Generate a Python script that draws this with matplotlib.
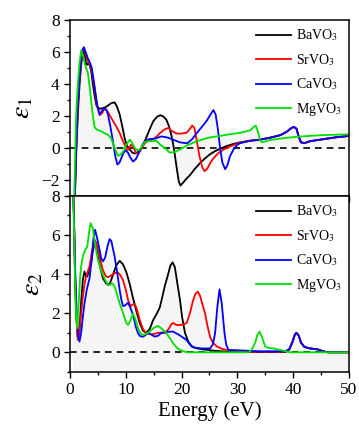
import numpy as np
import matplotlib
matplotlib.use("Agg")
import matplotlib.pyplot as plt

plt.rcParams["font.family"] = ["Liberation Serif", "DejaVu Serif"]
plt.rcParams["mathtext.fontset"] = "stix"

names = ["BaVO$_3$", "SrVO$_3$", "CaVO$_3$", "MgVO$_3$"]
colors = ["black", "red", "blue", "#00e000"]

# real part, epsilon_1
e1_ba_x = [0.8, 1.1, 1.4, 1.7, 2.0, 2.25, 2.45, 2.65, 2.9, 3.1, 3.3, 3.55, 3.8, 4.1, 4.4, 4.7, 5.0, 5.5,
           5.9, 6.4, 6.8, 7.4, 8.0, 8.4, 8.9, 9.4, 9.8, 10.2, 10.7, 11.2, 11.6, 12.0, 12.5, 13.0, 13.4,
           14.2, 14.9, 15.6, 16.2, 16.8, 17.3, 17.8, 18.3, 18.7, 19.1, 19.5, 19.8, 20.2, 20.8, 21.5,
           22.4, 23.3, 24.2, 25.0, 26.0, 26.9, 28.1, 29.3, 30.5, 32.3, 34.1, 36.0, 37.7, 38.8, 39.5,
           40.1, 40.6, 41.0, 41.4, 42.0, 43.0, 44.5, 46.0, 48.0, 50.0]
e1_ba_y = [-4.0, -0.5, 2.1, 3.9, 5.2, 5.9, 6.1, 5.8, 5.25, 5.2, 5.3, 5.15, 4.8, 4.0, 3.3, 2.7, 2.5, 2.45,
           2.5, 2.55, 2.65, 2.8, 2.85, 2.6, 2.1, 1.3, 0.6, 0.15, -0.1, -0.3, -0.35, -0.3, -0.15, 0.15, 0.42,
           1.1, 1.66, 1.95, 2.05, 1.95, 1.75, 1.3, 0.6, -0.2, -1.2, -2.1, -2.35, -2.2, -1.95, -1.7,
           -1.3, -0.95, -0.65, -0.42, -0.2, -0.05, 0.12, 0.25, 0.35, 0.45, 0.52, 0.65, 0.8, 1.0, 1.2,
           1.32, 1.2, 0.7, 0.35, 0.3, 0.42, 0.5, 0.58, 0.68, 0.75]

e1_sr_x = [0.8, 1.1, 1.4, 1.7, 2.0, 2.25, 2.45, 2.7, 3.1, 3.4, 3.7, 4.0, 4.4, 4.8, 5.3, 5.7, 6.2, 6.7,
           7.4, 8.2, 8.9, 9.4, 9.8, 10.2, 10.5, 10.9, 11.3, 11.8, 12.2, 12.7, 13.4, 14.1, 14.9, 15.5,
           16.1, 16.9, 17.6, 18.3, 19.1, 20.0, 20.9, 21.5, 21.9, 22.3, 22.7, 23.2, 23.7, 24.1, 24.6,
           25.2, 25.7, 26.5, 27.5, 28.7, 30.5, 32.3, 34.1, 36.0, 37.7, 38.8, 39.5, 40.1, 40.6, 41.0,
           41.4, 42.0, 43.0, 44.5, 46.0, 48.0, 50.0]
e1_sr_y = [-4.0, 0.0, 2.5, 4.3, 5.5, 6.05, 6.2, 6.0, 5.5, 5.3, 5.1, 4.6, 3.75, 2.7, 2.05, 2.15, 2.45, 2.3,
           1.87, 1.4, 0.94, 0.5, 0.2, -0.1, -0.1, 0.2, 0.1, -0.3, -0.38, -0.1, 0.3, 0.45, 0.55, 0.7,
           0.92, 1.15, 1.25, 1.05, 0.9, 0.9, 0.95, 1.2, 1.4, 1.25, 0.5, -0.5, -1.2, -1.45, -1.3,
           -0.9, -0.65, -0.35, -0.1, 0.1, 0.33, 0.45, 0.52, 0.65, 0.8, 1.0, 1.2, 1.32, 1.2, 0.7,
           0.35, 0.3, 0.42, 0.5, 0.58, 0.68, 0.75]

e1_ca_x = [0.8, 1.1, 1.4, 1.7, 2.0, 2.3, 2.5, 2.8, 3.2, 3.5, 3.9, 4.3, 4.7, 5.0, 5.3, 5.7, 6.1, 6.5,
           6.8, 7.2, 7.7, 8.1, 8.5, 8.9, 9.2, 9.6, 10.0, 10.4, 10.8, 11.3, 11.8, 12.5, 13.0, 13.4, 14.2,
           15.2, 16.4, 17.5, 18.6, 19.7, 21.0, 21.9, 22.7, 23.6, 24.5, 25.2, 25.7, 26.1, 26.5, 26.9,
           27.3, 27.8, 28.2, 28.7, 29.3, 30.0, 30.5, 32.3, 34.1, 36.0, 37.7, 38.8, 39.5, 40.1, 40.6,
           41.0, 41.4, 42.0, 43.0, 44.5, 46.0, 48.0, 50.0]
e1_ca_y = [-4.0, 0.0, 2.7, 4.5, 5.5, 6.2, 6.3, 6.0, 5.6, 5.4, 5.0, 4.1, 3.1, 2.5, 2.1, 2.3, 2.5, 2.4,
           2.1, 1.4, 0.42, -0.5, -1.04, -0.9, -0.63, -0.3, -0.15, -0.3, -0.6, -0.85, -0.7, -0.2, 0.2, 0.42, 0.55,
           0.58, 0.72, 0.65, 0.5, 0.35, 0.29, 0.55, 0.92, 1.3, 1.7, 2.1, 2.37, 2.1, 1.2, 0.0,
           -0.9, -1.33, -1.1, -0.5, -0.1, 0.2, 0.3, 0.45, 0.52, 0.65, 0.8, 1.0, 1.2, 1.32, 1.2,
           0.7, 0.35, 0.3, 0.42, 0.5, 0.58, 0.68, 0.75]

e1_mg_x = [0.7, 0.95, 1.1, 1.4, 1.7, 2.0, 2.3, 2.7, 3.2, 3.5, 3.8, 4.1, 4.4, 4.8, 5.6, 6.2, 6.8, 7.4,
           8.0, 8.6, 9.1, 9.5, 10.1, 10.7, 11.1, 11.6, 12.1, 12.5, 13.0, 13.4, 14.0, 14.6, 15.5, 16.2,
           17.0, 17.9, 18.8, 19.7, 20.9, 22.1, 23.6, 25.1, 26.9, 28.5, 30.5, 32.3, 32.9, 33.3, 33.7,
           34.1, 34.5, 35.9, 38.0, 40.7, 45.0, 50.0]
e1_mg_y = [-4.0, 0.0, 2.1, 4.0, 5.3, 6.1, 5.8, 5.2, 4.7, 3.9, 2.9, 2.0, 1.3, 1.15, 1.04, 0.92, 0.83, 0.58,
           0.0, -0.5, -0.4, -0.25, 0.2, 0.52, 0.35, 0.0, -0.15, -0.1, 0.15, 0.37, 0.42, 0.42, 0.45, 0.2,
           0.0, -0.3, -0.25, -0.1, 0.15, 0.33, 0.52, 0.66, 0.75, 0.85, 0.95, 1.1, 1.3, 1.4, 1.0,
           0.45, 0.35, 0.5, 0.6, 0.7, 0.8, 0.85]

# imaginary part, epsilon_2
e2_ba_x = [0.5, 0.7, 0.9, 1.1, 1.4, 1.7, 2.0, 2.3, 2.6, 2.85, 3.1, 3.4, 3.8, 4.1, 4.45, 4.7, 5.0, 5.45,
           5.9, 6.4, 6.8, 7.2, 7.7, 8.3, 8.9, 9.5, 10.1, 10.7, 11.3, 11.9, 12.5, 13.1, 13.7, 14.3, 14.9,
           15.5, 16.1, 16.6, 17.0, 17.5, 18.0, 18.4, 18.8, 19.2, 19.7, 20.1, 20.6, 21.2, 21.8, 22.8,
           23.9, 26.0, 28.1, 32.0, 38.5, 39.3, 39.9, 40.3, 40.6, 41.0, 41.4, 42.0, 43.0, 44.4, 45.3,
           46.2, 50.0]
e2_ba_y = [9.0, 7.0, 4.0, 2.0, 0.7, 1.1, 2.6, 3.7, 4.13, 3.9, 3.88, 4.2, 4.56, 5.2, 5.6, 5.4, 4.9, 4.3,
           3.79, 3.55, 3.45, 3.55, 3.96, 4.45, 4.68, 4.5, 4.1, 3.5, 2.77, 2.1, 1.49, 1.1, 1.0, 1.2, 1.65,
           1.95, 2.3, 2.9, 3.4, 3.9, 4.45, 4.6, 4.35, 3.6, 2.7, 1.8, 1.0, 0.55, 0.3, 0.2,
           0.15, 0.08, 0.03, 0.02, 0.03, 0.15, 0.55, 0.9, 1.0, 0.85, 0.5, 0.28, 0.2, 0.15, 0.06,
           0.0, 0.0]

e2_sr_x = [0.5, 0.7, 0.9, 1.15, 1.4, 1.7, 2.0, 2.3, 2.6, 2.9, 3.2, 3.5, 3.9, 4.4, 4.7, 5.0, 5.45, 5.9,
           6.4, 6.8, 7.2, 7.7, 8.2, 8.6, 9.0, 9.5, 10.0, 10.4, 10.7, 11.0, 11.3, 11.6, 12.0, 12.5, 13.0,
           13.4, 14.0, 14.6, 15.2, 15.8, 16.4, 17.0, 17.7, 18.2, 18.5, 19.1, 19.7, 20.3, 20.9, 21.5,
           22.0, 22.5, 22.9, 23.3, 23.8, 24.2, 24.6, 25.1, 25.6, 26.3, 27.2, 28.1, 31.1, 38.5, 39.3,
           39.9, 40.3, 40.6, 41.0, 41.4, 42.0, 43.0, 44.4, 45.3, 46.2, 50.0]
e2_sr_y = [9.0, 7.0, 4.0, 1.8, 0.63, 1.1, 2.0, 2.85, 3.5, 3.88, 4.15, 4.4, 5.1, 5.76, 5.6, 5.24, 4.7, 4.2,
           3.9, 3.84, 3.9, 4.0, 4.07, 4.08, 3.95, 3.7, 3.2, 2.68, 2.45, 2.38, 2.45, 2.48, 2.2, 1.66, 1.25,
           1.06, 0.95, 0.92, 0.95, 1.0, 1.0, 0.98, 1.2, 1.45, 1.5, 1.4, 1.4, 1.42, 1.5, 2.0,
           2.6, 3.0, 3.1, 2.9, 2.4, 2.0, 1.4, 0.8, 0.5, 0.3, 0.18, 0.12, 0.03, 0.03, 0.15,
           0.55, 0.9, 1.0, 0.85, 0.5, 0.28, 0.2, 0.15, 0.06, 0.0, 0.0]

e2_ca_x = [0.5, 0.7, 0.9, 1.2, 1.5, 1.7, 2.0, 2.3, 2.6, 3.0, 3.5, 3.9, 4.2, 4.5, 4.9, 5.3, 5.6, 5.9,
           6.3, 6.7, 7.1, 7.4, 7.7, 8.0, 8.5, 8.9, 9.2, 9.5, 9.9, 10.4, 10.8, 11.3, 11.8, 12.2, 12.6,
           13.1, 13.6, 14.0, 14.5, 15.2, 15.8, 16.4, 17.5, 18.5, 19.5, 20.9, 21.5, 22.1, 23.5, 25.1,
           25.6, 26.0, 26.4, 26.8, 27.2, 27.7, 28.0, 28.4, 30.5, 34.1, 38.5, 39.3, 39.9, 40.3, 40.6,
           41.0, 41.4, 42.0, 43.0, 44.4, 45.3, 46.2, 50.0]
e2_ca_y = [9.0, 7.0, 4.5, 2.0, 0.8, 0.55, 1.0, 1.8, 2.51, 3.2, 3.79, 4.8, 5.8, 6.27, 5.8, 5.24, 4.8, 4.65,
           4.85, 5.4, 5.79, 5.7, 5.3, 4.9, 4.0, 3.19, 2.7, 2.37, 2.4, 2.54, 2.3, 1.91, 1.3, 0.97, 0.82,
           0.8, 0.9, 1.0, 0.92, 0.8, 0.85, 1.0, 1.05, 1.06, 0.9, 0.63, 0.4, 0.25, 0.2, 0.2,
           0.4, 0.97, 2.3, 3.22, 2.5, 0.97, 0.4, 0.12, 0.1, 0.05, 0.05, 0.15, 0.55, 0.9, 1.0,
           0.85, 0.5, 0.28, 0.2, 0.15, 0.06, 0.0, 0.0]

e2_mg_x = [0.5, 0.7, 0.95, 1.1, 1.3, 1.55, 1.8, 2.0, 2.3, 2.6, 3.1, 3.4, 3.7, 4.1, 4.5, 5.0, 5.45, 5.9,
           6.4, 6.8, 7.2, 7.6, 8.0, 8.5, 8.9, 9.4, 9.8, 10.1, 10.4, 10.8, 11.3, 11.7, 12.2, 12.6, 13.1,
           13.7, 14.3, 15.0, 15.8, 16.4, 17.0, 17.3, 17.9, 18.5, 19.1, 19.7, 20.5, 21.0, 32.0, 32.6,
           33.2, 33.6, 34.0, 34.4, 35.0, 35.7, 36.5, 37.4, 38.3, 39.5, 50.0]
e2_mg_y = [9.0, 6.5, 3.0, 1.8, 1.23, 2.5, 3.8, 4.4, 4.9, 5.16, 5.42, 6.1, 6.61, 6.35, 5.5, 4.73, 4.3, 3.96,
           3.65, 3.45, 3.45, 3.53, 3.36, 2.9, 2.5, 2.1, 1.74, 1.5, 1.4, 1.6, 1.99, 1.7, 1.23, 0.98, 0.89,
           0.95, 1.06, 1.25, 1.35, 1.22, 1.06, 0.97, 0.72, 0.46, 0.25, 0.12, 0.04, 0.0, 0.0, 0.15,
           0.5, 0.9, 1.06, 0.8, 0.29, 0.22, 0.2, 0.14, 0.08, 0.0, 0.0]

e1_data = [(e1_ba_x, e1_ba_y), (e1_sr_x, e1_sr_y), (e1_ca_x, e1_ca_y), (e1_mg_x, e1_mg_y)]
e2_data = [(e2_ba_x, e2_ba_y), (e2_sr_x, e2_sr_y), (e2_ca_x, e2_ca_y), (e2_mg_x, e2_mg_y)]

fig = plt.figure(figsize=(3.59, 4.25), dpi=100)
ax1 = fig.add_axes([0.195, 0.539, 0.777, 0.414])
ax2 = fig.add_axes([0.195, 0.125, 0.777, 0.414])


def style_axis(ax, ymin, ymax):
    ax.set_xlim(0, 50)
    ax.set_ylim(ymin, ymax)
    ax.set_xticks(np.arange(0, 51, 10))
    ax.set_xticks(np.arange(0, 51, 5), minor=True)
    ax.set_yticks(np.arange(-2, 9, 2) if ymin < -1 else np.arange(0, 9, 2))
    ax.set_yticks(np.arange(ymin, ymax + 0.1, 1), minor=True)
    ax.tick_params(which="both", direction="out", top=False, right=False, labelsize=12.5, width=1)
    ax.tick_params(which="major", length=4)
    ax.tick_params(which="minor", length=2.5)
    for s in ax.spines.values():
        s.set_linewidth(1.1)
    ax.axhline(0, color="black", ls="--", lw=1.2, dashes=(4, 3), zorder=1)


def add_legend(ax):
    ax.legend(loc="upper right", frameon=False, fontsize=10, handlelength=2.5, handletextpad=0.35,
              labelspacing=0.62, borderaxespad=0.15)


# top panel
for (x, y) in e1_data:
    ax1.fill_between(x, 0, y, color="#f5f5f5", lw=0, zorder=0)
for (x, y), c, n in zip(e1_data, colors, names):
    ax1.plot(x, y, color=c, lw=1.3, label=n, zorder=2)
style_axis(ax1, -3, 8)
ax1.tick_params(labelbottom=False)
ax1.set_ylabel(r"$\varepsilon_1$", fontsize=20, labelpad=4)
add_legend(ax1)

# bottom panel
for (x, y) in e2_data:
    ax2.fill_between(x, -1, y, color="#f5f5f5", lw=0, zorder=0)
for (x, y), c, n in zip(e2_data, colors, names):
    ax2.plot(x, y, color=c, lw=1.3, label=n, zorder=2)
style_axis(ax2, -1, 8)
ax2.set_ylabel(r"$\varepsilon_2$", fontsize=20, labelpad=4)
ax2.set_xlabel("Energy (eV)", fontsize=15, labelpad=2)
add_legend(ax2)

fig.savefig("out.png", dpi=100)
